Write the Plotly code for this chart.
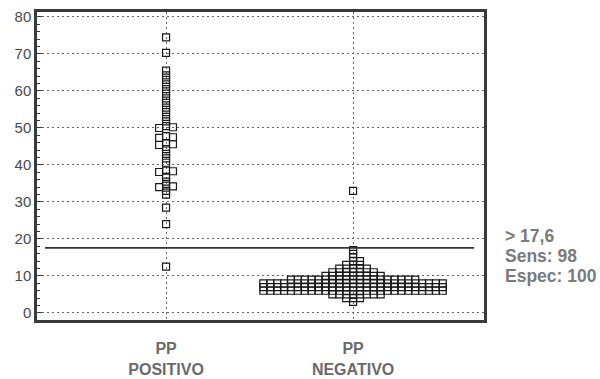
import numpy as np
import plotly.graph_objects as go

# ---------------- data ----------------
categories = ["PP<br>POSITIVO", "PP<br>NEGATIVO"]
category_x = [1, 2]

pos_values = [74.5, 70.3,
              65.5, 64.2, 63.0, 61.8, 60.5, 59.3, 58.0, 56.8, 55.5, 54.3, 53.0, 51.8,
              50.5, 50.2, 50.0,
              47.8, 47.5, 47.3,
              45.8, 45.6, 45.4,
              44.3, 43.0, 41.8, 40.6,
              38.5, 38.3, 38.1,
              36.8, 35.5,
              34.4, 34.2, 34.0,
              33.0, 32.0, 28.5, 24.0, 12.5]

neg_levels = [33, 17, 16, 15, 14, 13, 12, 11, 10, 9, 8, 7, 6, 5, 4, 3]
neg_counts = [1, 1, 1, 1, 2, 3, 5, 7, 9, 19, 27, 27, 27, 8, 3, 1]

cutoff = 17.6
side_text = ["> 17,6", "Sens: 98", "Espec: 100"]
y_ticks = [0, 10, 20, 30, 40, 50, 60, 70, 80]

neg_values = np.repeat(neg_levels, neg_counts).tolist()


def swarm(values, center, step, min_gap):
    """Simple deterministic dot-plot layout: spread colliding points sideways."""
    order = [0]
    for k in range(1, 40):
        order += [k, -k]
    placed = []
    xs, ys = [], []
    for v in sorted(values, reverse=True):
        chosen = 0
        for k in order:
            if all(not (pk == k and abs(py - v) < min_gap) for pk, py in placed):
                chosen = k
                break
        placed.append((chosen, v))
        xs.append(center + chosen * step)
        ys.append(v)
    return xs, ys


STEP = 6.9 / 187.0
px_x, px_y = swarm(pos_values, category_x[0], STEP, 1.0)
nx_x, nx_y = swarm(neg_values, category_x[1], STEP, 1.0)

marker = dict(symbol="square-open", size=7, color="#1a1a1a", line=dict(width=1.2, color="#1a1a1a"))

fig = go.Figure()
fig.add_trace(go.Scatter(x=px_x, y=px_y, mode="markers", marker=marker, showlegend=False, cliponaxis=False))
fig.add_trace(go.Scatter(x=nx_x, y=nx_y, mode="markers", marker=marker, showlegend=False, cliponaxis=False))

fig.add_shape(type="line", xref="x", yref="y", x0=0.353, x1=2.647, y0=cutoff, y1=cutoff,
              line=dict(color="#333333", width=1.6))

for i, t in enumerate(side_text):
    fig.add_annotation(xref="paper", yref="paper", x=1.0425, y=(320 - 236 - 20 * i) / 308.0,
                       text="<b>%s</b>" % t, showarrow=False, xanchor="left", yanchor="middle",
                       font=dict(family="Liberation Sans, Arial", size=17.5, color="#7a7a7a"))

fig.update_layout(
    width=600, height=379,
    margin=dict(l=37, r=116, t=12, b=59),
    paper_bgcolor="white", plot_bgcolor="white",
    font=dict(family="Liberation Sans, Arial"),
)
fig.update_xaxes(range=[0.31, 2.70], tickvals=category_x,
                 ticktext=["<b>%s</b>" % c for c in categories],
                 tickfont=dict(size=16, color="#6a6a6a"),
                 showgrid=True, gridcolor="#666666", griddash="2px,3px", gridwidth=1,
                 showline=True, linecolor="#3a3a3a", linewidth=2.5, mirror=True,
                 ticks="", ticklabelstandoff=12, zeroline=False, automargin=False)
fig.update_yaxes(range=[-1.9, 81.35], tickvals=y_ticks,
                 tickfont=dict(size=15, color="#4a4a4a"),
                 showgrid=True, gridcolor="#666666", griddash="2px,3px", gridwidth=1,
                 showline=True, linecolor="#3a3a3a", linewidth=2.5, mirror=True,
                 ticks="inside", ticklen=5, tickcolor="#3a3a3a",
                 minor=dict(dtick=2, ticks="inside", ticklen=3, tickcolor="#3a3a3a", showgrid=False),
                 zeroline=False, automargin=False)

fig.write_html("out.html")
